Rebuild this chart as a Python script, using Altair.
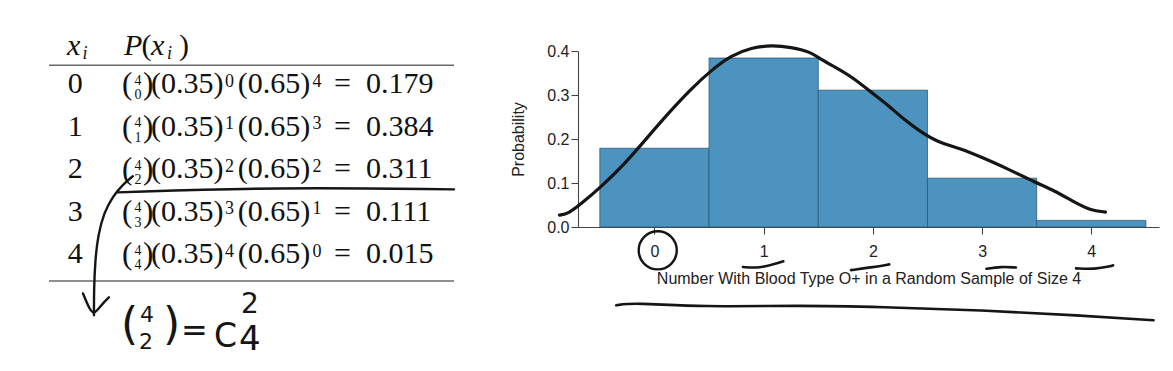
import altair as alt
import pandas as pd

# ---------------- data ----------------
k_vals = [0, 1, 2, 3, 4]
probs = [0.179, 0.384, 0.311, 0.111, 0.015]
prob_labels = ["0.179", "0.384", "0.311", "0.111", "0.015"]
n_trials = 4
p_txt = "0.35"
q_txt = "0.65"

x_title = "Number With Blood Type O+ in a Random Sample of Size 4"
y_title = "Probability"

# hand-drawn curve over the histogram
curve_x = [-0.87, -0.79, -0.67, -0.49, -0.27, -0.06, 0.15, 0.34, 0.52, 0.70, 0.89, 1.07,
           1.25, 1.43, 1.53, 1.65, 1.81, 1.98, 2.14, 2.29, 2.44, 2.59, 2.81, 2.99, 3.23,
           3.48, 3.66, 3.84, 3.99, 4.13]
curve_y = [0.027, 0.030, 0.053, 0.091, 0.144, 0.205, 0.265, 0.315, 0.356, 0.390, 0.408, 0.413,
           0.409, 0.398, 0.380, 0.364, 0.341, 0.307, 0.277, 0.243, 0.216, 0.193, 0.178, 0.159,
           0.133, 0.102, 0.083, 0.057, 0.038, 0.034]

# hand-drawn underlines below the x axis (x in category units, y in probability units)
ink_id = ["u1"] * 3 + ["u2"] * 3 + ["u3"] * 3 + ["u4"] * 4 + ["long"] * 8
ink_x = [0.81, 0.97, 1.18,
         1.80, 1.98, 2.15,
         3.04, 3.17, 3.31,
         3.86, 4.03, 4.18, 4.20,
         -0.35, -0.19, 0.43, 1.34, 2.08, 2.99, 3.90, 4.57]
ink_y = [-0.091, -0.094, -0.078,
         -0.098, -0.092, -0.085,
         -0.095, -0.090, -0.092,
         -0.094, -0.096, -0.089, -0.087,
         -0.178, -0.172, -0.182, -0.178, -0.182, -0.189, -0.201, -0.212]
circle_x = [0.03]
circle_y = [-0.053]

# hand-drawn strokes on the table (tx: % of table width, row: table row units)
tink_id = ["strike"] * 3 + ["arrow"] * 8 + ["head"] * 5
tink_x = [17.0, 55.6, 100.0,
          20.7, 18.3, 15.8, 13.6, 12.1, 11.4, 11.1, 11.1,
          8.4, 9.9, 11.1, 12.8, 14.8]
tink_r = [2.33, 2.21, 2.26,
          1.95, 2.14, 2.42, 2.80, 3.34, 3.93, 4.64, 5.22,
          4.71, 5.06, 5.22, 4.99, 4.80]

# ---------------- frames ----------------
hist_df = pd.DataFrame({"k": k_vals, "p": probs})
curve_df = pd.DataFrame({"x": curve_x, "y": curve_y, "i": range(len(curve_x))})
ink_df = pd.DataFrame({"s": ink_id, "x": ink_x, "y": ink_y, "i": range(len(ink_x))})
circ_df = pd.DataFrame({"x": circle_x, "y": circle_y})
tink_df = pd.DataFrame({"s": tink_id, "tx": tink_x, "row": tink_r, "i": range(len(tink_x))})
tdf = pd.DataFrame({
    "row": k_vals,
    "xi": [str(k) for k in k_vals],
    "n": [str(n_trials)] * len(k_vals),
    "k": [str(k) for k in k_vals],
    "sup2": [str(n_trials - k) for k in k_vals],
    "val": prob_labels,
})
one = pd.DataFrame({"a": [0]})

# ---------------- styles ----------------
BAR = "#4c93c0"
EDGE = "#2e5a74"
INK = "#151515"
TXT = "#111111"
SERIF = "Liberation Serif"
HAND = "DejaVu Sans"

XS = alt.Scale(domain=[-0.7, 4.62], nice=False, zero=False, padding=0)
YS = alt.Scale(domain=[0, 0.4], nice=False, zero=False, padding=0)
XA = alt.Axis(values=k_vals, format="d", tickSize=7, labelPadding=9, titlePadding=11,
              grid=False)
YA = alt.Axis(values=[0, 0.1, 0.2, 0.3, 0.4], format=".1f", tickSize=7, labelPadding=2,
              titlePadding=20, grid=False)


def X(field):
    return alt.X(field, scale=XS, axis=XA, title=x_title)


def Y(field):
    return alt.Y(field, scale=YS, axis=YA, title=y_title)


bars = alt.Chart(hist_df).transform_calculate(
    x="datum.k - 0.5", x_end="datum.k + 0.5", y="datum.p", y0="0"
).mark_rect(fill=BAR, stroke=EDGE, strokeWidth=0.8).encode(
    x=X("x:Q"), x2="x_end:Q", y=Y("y:Q"), y2="y0:Q"
)
curve = alt.Chart(curve_df).mark_line(
    color=INK, strokeWidth=3.2, interpolate="basis", strokeCap="round"
).encode(x=X("x:Q"), y=Y("y:Q"), order="i:Q")
ink = alt.Chart(ink_df).mark_line(
    color=INK, strokeWidth=2.6, interpolate="basis", strokeCap="round"
).encode(x=X("x:Q"), y=Y("y:Q"), detail="s:N", order="i:Q")
circ = alt.Chart(circ_df).mark_point(
    shape="circle", filled=False, size=1450, color=INK, strokeWidth=2.4, opacity=1
).encode(x=X("x:Q"), y=Y("y:Q"))

hist = alt.layer(bars, curve, ink, circ)

# ---------------- table ----------------
ROWS = alt.Scale(domain=[0, 4], range=[42.3, 212.3], nice=False, zero=False)
TXS = alt.Scale(domain=[0, 100], range=[-529, -124], nice=False, zero=False)


def row_text(px, size, field=None, const=None, dy=0, style="normal", align="left"):
    text = alt.Text(f"{field}:N") if field else alt.value(const)
    return alt.Chart(tdf).mark_text(
        align=align, baseline="alphabetic", dy=dy, fontSize=size, font=SERIF,
        fontStyle=style, color=TXT
    ).encode(x=alt.value(px), y=alt.Y("row:Q", scale=ROWS, axis=None), text=text)


def fixed_text(const, px, py, size, style="normal", font=SERIF, align="left", color=TXT):
    return alt.Chart(one).mark_text(
        align=align, baseline="alphabetic", fontSize=size, font=font,
        fontStyle=style, color=color
    ).encode(x=alt.value(px), y=alt.value(py), text=alt.value(const))


table_layers = [
    # header
    fixed_text("x", -511, 4.3, 30, style="italic"),
    fixed_text("i", -495.5, 7.8, 18, style="italic"),
    fixed_text("P", -454, 4.3, 30, style="italic"),
    fixed_text("(", -436.5, 4.3, 30),
    fixed_text("x", -427, 4.3, 30, style="italic"),
    fixed_text("i", -411, 7.8, 18, style="italic"),
    fixed_text(")", -399, 4.3, 30),
    # rules
    alt.Chart(one).mark_rule(color="#6a6a6a", strokeWidth=1.4).encode(
        x=alt.value(-529), x2=alt.value(-124), y=alt.value(14.3)),
    alt.Chart(one).mark_rule(color="#6a6a6a", strokeWidth=1.4).encode(
        x=alt.value(-529), x2=alt.value(-124), y=alt.value(230)),
    # rows
    row_text(-510.3, 30, field="xi"),
    row_text(-456, 31, const="(", dy=1),
    row_text(-440, 14, field="n", dy=-8.5, align="center"),
    row_text(-440, 14, field="k", dy=6, align="center"),
    row_text(-435, 31, const=")", dy=1),
    row_text(-427, 30, const=f"({p_txt})"),
    row_text(-353, 18, field="k", dy=-6.5),
    row_text(-340.3, 30, const=f"({q_txt})"),
    row_text(-265.5, 18, field="sup2", dy=-6.5),
    row_text(-244, 30, const="="),
    row_text(-212, 30, field="val"),
    # hand strokes on the table
    alt.Chart(tink_df).mark_line(
        color=INK, strokeWidth=2.4, interpolate="basis", strokeCap="round"
    ).encode(
        x=alt.X("tx:Q", scale=TXS, axis=None),
        y=alt.Y("row:Q", scale=ROWS, axis=None),
        detail="s:N", order="i:Q"),
    # handwritten note  (4 over 2) = C 2 4
    fixed_text("(", -457, 288.3, 44, font=HAND, color=INK),
    fixed_text("4", -431, 271.0, 22, font=HAND, align="center", color=INK),
    fixed_text("2", -432, 298.0, 22, font=HAND, align="center", color=INK),
    fixed_text(")", -415, 288.3, 44, font=HAND, color=INK),
    fixed_text("=", -397, 290.3, 32, font=HAND, color=INK),
    fixed_text("C", -364, 296.3, 33, font=HAND, color=INK),
    fixed_text("2", -337, 262.3, 28, font=HAND, color=INK),
    fixed_text("4", -339, 299.3, 34, font=HAND, color=INK),
]
table = alt.layer(*table_layers)

chart = alt.layer(hist, table).resolve_scale(
    x="independent", y="independent"
).properties(
    width=581, height=176,
    padding={"left": 40, "top": 23, "right": 5, "bottom": 0},
    background="white",
).configure_view(stroke=None).configure_axis(
    labelFont="Liberation Sans", titleFont="Liberation Sans",
    labelFontSize=16, titleFontSize=16, titleFontWeight="normal",
    labelColor="#222222", titleColor="#222222",
    domainColor="#444444", tickColor="#444444", domainWidth=1.1, tickWidth=1.1,
)

chart.save("out.html", embed_options={"renderer": "svg", "actions": False})
